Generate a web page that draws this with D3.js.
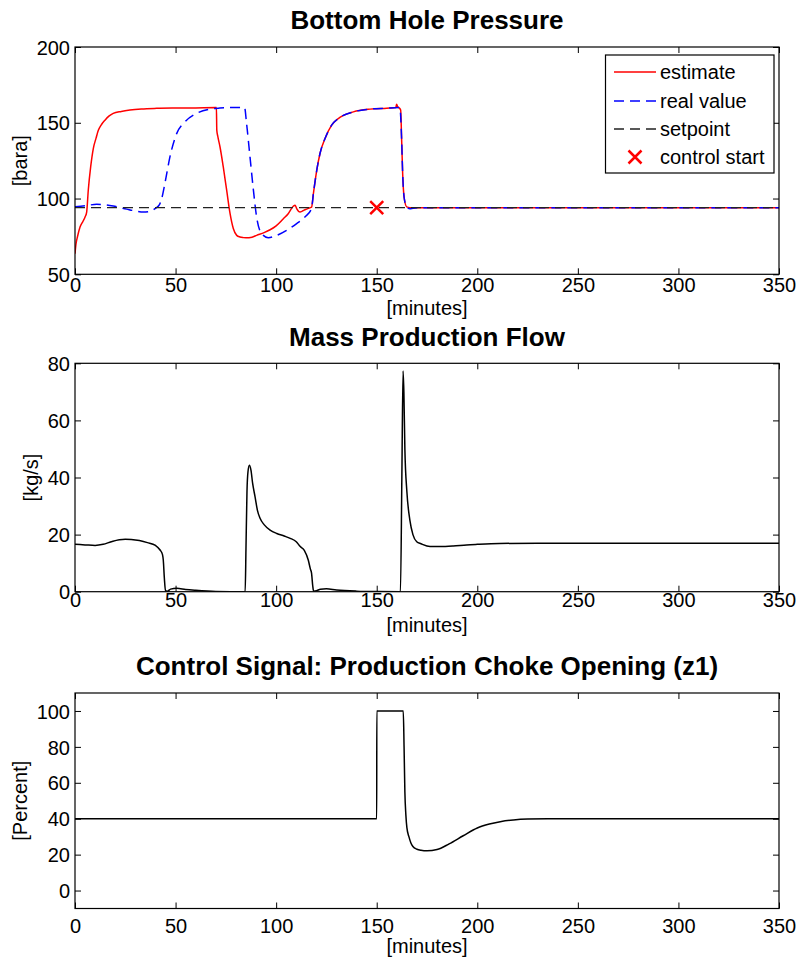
<!DOCTYPE html>
<html><head><meta charset="utf-8">
<script src="https://cdn.jsdelivr.net/npm/d3@7"></script>
<style>
html,body{margin:0;padding:0;background:#fff;}
text{font-family:"Liberation Sans",Arial,Helvetica,sans-serif;fill:#000;}
</style></head>
<body>
<svg id="chart" width="799" height="961"></svg>
<script>
// ---------- data ----------
const xTicks = [0,50,100,150,200,250,300,350];
const bhpTicks = [50,100,150,200];
const flowTicks = [0,20,40,60,80];
const chokeTicks = [0,20,40,60,80,100];

const estT = [0,0.5,1.2,2.5,4,5,5.8,6.6,7.8,9.1,10.5,11.6,13,14.9,17,19,23,27.3,33,40.6,50,60,70.3,70.5,71,72.1,73.7,75.4,77.1,78.7,80.4,82,83.7,85,88,90.3,94,97,100,103.6,106,108.5,109.4,110.2,111.9,114.3,116.8,117.6,118.5,120.2,121.8,124.3,127.6,131.7,138.4,146.7,155,159.5,159.9,160.4,161,161.9,162.4,162.9,163.6,164.9,166.5,170,350];
const estV = [63.6,70,74.6,81.2,85,87.8,91.1,105.5,121,133,140,145,148.5,151.7,154.5,156.2,157.5,158.4,159.1,159.5,159.7,159.8,160,145,141,134,121,105.5,90,80.2,75.7,74.6,74.2,74.1,74.5,75.7,77.5,79.4,82,86.7,90,94.9,95.6,93.4,91.1,92.6,93.9,94.3,103,118.7,129.7,139.6,148.4,153.5,157.2,159,159.6,160,162.3,160.5,160,158.4,138.5,116.5,101,94.5,94,94,94];

const realT = [0,5,10.8,19,25.7,30,34,37,39.8,42,43.1,44.7,47.2,50.6,54.7,60.5,67.1,72,78,84.3,85.3,87,88.7,90.3,92.8,96.1,100.3,105.2,110.2,114.3,117.6,118.5,120.2,121.8,124.3,127.6,131.7,138.4,146.7,155,161.5,162.4,162.9,163.6,164.9,166.5,168,172,350];
const realV = [94.5,95.2,96.2,95,93,91.8,91.1,91.5,93.4,96,100,110,127.5,143,150.6,156.2,159,159.7,160,160,149.5,127.5,105.5,87.8,76.8,74.2,75.7,79,83.5,87.8,93.4,103,118.7,129.7,139.6,148.4,153.5,157.2,159,159.6,160,138.5,116.5,101,94.5,93.2,93.6,94,94];

const setT = [0,350];
const setV = [94,94];
const ctrlStart = [150,94];

const flowT = [0,5,10,14,18,22,25,28,32,36,40,42.3,43.5,43.9,44.4,45,46,47.5,50.6,55,60,70,84.6,85,85.5,86,86.7,87.5,88.3,89.5,90.7,92,94,97,100.3,104,107,110,112,114,116,117,117.6,118.2,118.6,120,122,125,130,140,150,161.8,162.5,163.1,163.5,164,165,166.5,168,169.9,172,176.5,181.5,188,194.7,200,211,230,350];
const flowV = [16.6,16.4,16.2,16.6,17.5,18.2,18.4,18.3,17.9,17.2,16.2,14.6,13,11,5,0.3,0.2,0.9,1.2,0.8,0.5,0.1,0,15,35,42,44.3,42.5,38,33.3,28.5,25.7,23.5,21.6,20.4,19.5,18.7,17.5,15.8,14.5,11,8,6.5,2,0.2,0.3,0.9,1.0,0.6,0.2,0.05,0,40,77.3,70,50,35,25,20,17.5,16.8,15.8,15.8,16,16.4,16.6,16.9,17,17];

const chokeT = [0,150,150.05,163.2,163.6,164,164.5,165,166,167,168,170,172,175,180,186,193,200,206,212,218,225,235,350];
const chokeV = [40,40,100,100,80,55,42,35,30,26.5,24.5,23,22.4,22.1,22.8,26,30.5,34.8,37,38.5,39.3,39.8,40,40];

const legendItems = ["estimate","real value","setpoint","control start"];

// ---------- layout ----------
const svg = d3.select("#chart");
const L = 75, R = 779;
const x = d3.scaleLinear().domain([0,350]).range([L,R]);
const zip = (t,v)=>t.map((d,i)=>[d,v[i]]);
const DASH = "10,6";

function panel(o){
  const y = d3.scaleLinear().domain(o.domain).range([o.bottom,o.top]);
  const g = svg.append("g");
  const id = "clip"+o.key;
  svg.append("clipPath").attr("id",id).append("rect")
    .attr("x",L).attr("y",o.top).attr("width",R-L).attr("height",o.bottom-o.top);
  const ax = d3.axisBottom(x).tickValues(xTicks).tickSizeInner(-6).tickSizeOuter(0).tickPadding(o.xpad);
  g.append("g").attr("transform",`translate(0,${o.bottom})`).call(ax);
  g.append("g").attr("transform",`translate(0,${o.top})`).call(d3.axisTop(x).tickValues(xTicks).tickSizeInner(-6).tickSizeOuter(0).tickFormat(""));
  const gl = g.append("g").attr("transform",`translate(${L},0)`).call(d3.axisLeft(y).tickValues(o.ticks).tickSizeInner(-6).tickSizeOuter(0).tickPadding(5));
  g.append("g").attr("transform",`translate(${R},0)`).call(d3.axisRight(y).tickValues(o.ticks).tickSizeInner(-6).tickSizeOuter(0).tickFormat(""));
  g.selectAll(".domain").remove();
  g.selectAll(".tick line").attr("stroke","#000").attr("stroke-width",1);
  g.selectAll(".tick text").attr("font-size",20).attr("font-family","Liberation Sans, Arial, sans-serif").attr("fill","#000");
  gl.selectAll(".tick text").attr("dy","0.36em");
  const line = d3.line().x(d=>x(d[0])).y(d=>y(d[1])).curve(d3.curveMonotoneX);
  const lg = svg.append("g").attr("clip-path",`url(#${id})`);
  o.series.forEach(s=>{
    lg.append("path").attr("d",line(s.data)).attr("fill","none")
      .attr("stroke",s.color).attr("stroke-width",s.w)
      .attr("stroke-dasharray",s.dash||null);
  });
  svg.append("rect").attr("x",L).attr("y",o.top).attr("width",R-L).attr("height",o.bottom-o.top)
    .attr("fill","none").attr("stroke","#000").attr("stroke-width",1.2);
  svg.append("text").attr("x",(L+R)/2).attr("y",o.titleY).attr("text-anchor","middle")
    .attr("font-size",26).attr("font-weight","bold").text(o.title);
  svg.append("text").attr("x",(L+R)/2).attr("y",o.xlabY).attr("text-anchor","middle")
    .attr("font-size",20).text("[minutes]");
  svg.append("text").attr("transform",`translate(${o.ylabX},${(o.top+o.bottom)/2}) rotate(-90)`)
    .attr("text-anchor","middle").attr("dy","0.35em").attr("font-size",20).text(o.ylab);
  return {y,g};
}

const p1 = panel({key:1,top:47,bottom:274.3,domain:[50,200],ticks:bhpTicks,xpad:3,
  title:"Bottom Hole Pressure",titleY:29,xlabY:315,ylab:"[bara]",ylabX:20,
  series:[
    {data:zip(estT,estV),color:"#ff0000",w:1.5},
    {data:zip(realT,realV),color:"#0000ff",w:1.5,dash:DASH},
    {data:zip(setT,setV),color:"#222",w:1.4,dash:DASH}
  ]});
(function(){
  const cx = x(ctrlStart[0]), cy = p1.y(ctrlStart[1]), r=6.5;
  svg.append("path").attr("d",`M${cx-r},${cy-r}L${cx+r},${cy+r}M${cx-r},${cy+r}L${cx+r},${cy-r}`)
    .attr("stroke","#ff0000").attr("stroke-width",2.5).attr("fill","none");
})();
(function(){
  const lx=605.5, ly=55, lw=168.5, lh=118;
  svg.append("rect").attr("x",lx).attr("y",ly).attr("width",lw).attr("height",lh)
    .attr("fill","#fff").attr("stroke","#000").attr("stroke-width",1.2);
  const rows=[72,101,129,157];
  const styles=[{c:"#ff0000",d:null},{c:"#0000ff",d:DASH},{c:"#222",d:DASH}];
  legendItems.forEach((name,i)=>{
    const yy=rows[i];
    if(i<3){
      svg.append("line").attr("x1",614).attr("x2",656).attr("y1",yy).attr("y2",yy)
        .attr("stroke",styles[i].c).attr("stroke-width",1.5).attr("stroke-dasharray",styles[i].d);
    } else {
      const cx=635, r=6.5;
      svg.append("path").attr("d",`M${cx-r},${yy-r}L${cx+r},${yy+r}M${cx-r},${yy+r}L${cx+r},${yy-r}`)
        .attr("stroke","#ff0000").attr("stroke-width",2.5);
    }
    svg.append("text").attr("x",660).attr("y",yy).attr("dy","0.35em").attr("font-size",20).text(name);
  });
})();

panel({key:2,top:363.3,bottom:591.7,domain:[0,80],ticks:flowTicks,xpad:1,
  title:"Mass Production Flow",titleY:346,xlabY:632,ylab:"[kg/s]",ylabX:31,
  series:[{data:zip(flowT,flowV),color:"#000",w:1.5}]});

panel({key:3,top:693,bottom:908.5,domain:[-10,110],ticks:chokeTicks,xpad:10,
  title:"Control Signal: Production Choke Opening (z1)",titleY:675,xlabY:953,ylab:"[Percent]",ylabX:20,
  series:[{data:zip(chokeT,chokeV),color:"#000",w:1.5}]});
</script>
</body></html>
